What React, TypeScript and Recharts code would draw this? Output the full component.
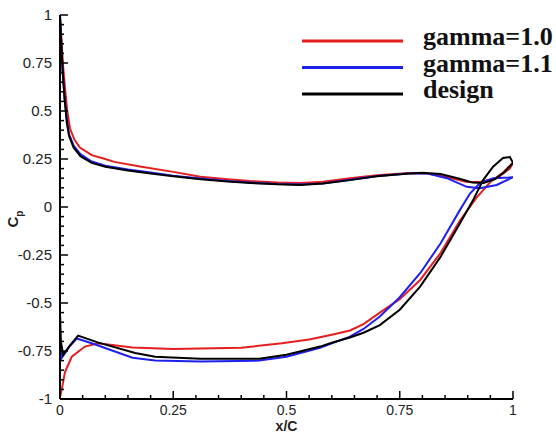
import React from "react";
import { LineChart, Line, XAxis, YAxis, Legend, Label } from "recharts";

// pressure distribution, upper surface LE -> TE, then lower surface TE -> LE
const GAMMA_10 = [
  { x: 0, y: 0.98 }, { x: 0.003, y: 0.88 }, { x: 0.007, y: 0.73 }, { x: 0.011, y: 0.62 },
  { x: 0.016, y: 0.5 }, { x: 0.022, y: 0.41 }, { x: 0.032, y: 0.35 }, { x: 0.044, y: 0.31 },
  { x: 0.07, y: 0.27 }, { x: 0.1, y: 0.25 }, { x: 0.12, y: 0.235 }, { x: 0.18, y: 0.21 },
  { x: 0.25, y: 0.183 }, { x: 0.31, y: 0.158 }, { x: 0.37, y: 0.145 }, { x: 0.42, y: 0.135 },
  { x: 0.48, y: 0.128 }, { x: 0.53, y: 0.125 }, { x: 0.58, y: 0.132 }, { x: 0.64, y: 0.15 },
  { x: 0.7, y: 0.165 }, { x: 0.77, y: 0.177 }, { x: 0.81, y: 0.175 }, { x: 0.854, y: 0.156 },
  { x: 0.898, y: 0.13 }, { x: 0.927, y: 0.13 }, { x: 0.964, y: 0.15 }, { x: 0.993, y: 0.2 },
  { x: 1.0, y: 0.23 },
  { x: 0.978, y: 0.18 }, { x: 0.95, y: 0.13 }, { x: 0.92, y: 0.05 }, { x: 0.883, y: -0.07 },
  { x: 0.84, y: -0.24 }, { x: 0.795, y: -0.38 }, { x: 0.75, y: -0.48 }, { x: 0.706, y: -0.55 },
  { x: 0.67, y: -0.61 }, { x: 0.64, y: -0.643 }, { x: 0.6, y: -0.665 }, { x: 0.55, y: -0.69 },
  { x: 0.49, y: -0.71 }, { x: 0.4, y: -0.733 },
  { x: 0.31, y: -0.737 }, { x: 0.25, y: -0.74 }, { x: 0.16, y: -0.732 }, { x: 0.084, y: -0.71 },
  { x: 0.055, y: -0.727 }, { x: 0.026, y: -0.78 }, { x: 0.011, y: -0.86 }, { x: 0.004, y: -0.95 },
  { x: 0, y: -0.99 },
];

const GAMMA_11 = [
  { x: 0, y: 1.0 }, { x: 0.003, y: 0.84 }, { x: 0.006, y: 0.7 }, { x: 0.01, y: 0.57 },
  { x: 0.015, y: 0.46 }, { x: 0.02, y: 0.38 }, { x: 0.03, y: 0.32 }, { x: 0.045, y: 0.275 },
  { x: 0.07, y: 0.237 }, { x: 0.1, y: 0.215 }, { x: 0.15, y: 0.195 }, { x: 0.2, y: 0.18 },
  { x: 0.25, y: 0.163 }, { x: 0.31, y: 0.148 }, { x: 0.37, y: 0.135 }, { x: 0.42, y: 0.127 },
  { x: 0.48, y: 0.12 }, { x: 0.53, y: 0.117 }, { x: 0.58, y: 0.123 }, { x: 0.64, y: 0.142 },
  { x: 0.7, y: 0.162 }, { x: 0.77, y: 0.175 }, { x: 0.81, y: 0.175 }, { x: 0.854, y: 0.15 },
  { x: 0.898, y: 0.105 }, { x: 0.927, y: 0.098 }, { x: 0.964, y: 0.115 }, { x: 1.0, y: 0.155 },
  { x: 0.956, y: 0.15 }, { x: 0.927, y: 0.125 }, { x: 0.905, y: 0.07 }, { x: 0.883, y: -0.015 },
  { x: 0.84, y: -0.19 }, { x: 0.795, y: -0.345 }, { x: 0.75, y: -0.47 }, { x: 0.706, y: -0.57 },
  { x: 0.67, y: -0.635 }, { x: 0.64, y: -0.675 }, { x: 0.6, y: -0.71 }, { x: 0.574, y: -0.733 },
  { x: 0.5, y: -0.78 }, { x: 0.44, y: -0.8 },
  { x: 0.31, y: -0.805 }, { x: 0.21, y: -0.8 }, { x: 0.16, y: -0.785 }, { x: 0.07, y: -0.71 },
  { x: 0.037, y: -0.685 }, { x: 0.02, y: -0.73 }, { x: 0.004, y: -0.785 }, { x: 0, y: -0.72 },
];

const DESIGN = [
  { x: 0, y: 1.0 }, { x: 0.003, y: 0.85 }, { x: 0.006, y: 0.7 }, { x: 0.01, y: 0.57 },
  { x: 0.015, y: 0.44 }, { x: 0.02, y: 0.37 }, { x: 0.03, y: 0.31 }, { x: 0.045, y: 0.265 },
  { x: 0.07, y: 0.23 }, { x: 0.1, y: 0.21 }, { x: 0.15, y: 0.19 }, { x: 0.2, y: 0.175 },
  { x: 0.25, y: 0.16 }, { x: 0.31, y: 0.145 }, { x: 0.37, y: 0.133 }, { x: 0.42, y: 0.125 },
  { x: 0.48, y: 0.118 }, { x: 0.53, y: 0.115 }, { x: 0.58, y: 0.122 }, { x: 0.64, y: 0.14 },
  { x: 0.7, y: 0.16 }, { x: 0.77, y: 0.175 }, { x: 0.8, y: 0.178 }, { x: 0.84, y: 0.172 },
  { x: 0.88, y: 0.148 }, { x: 0.91, y: 0.128 }, { x: 0.935, y: 0.125 }, { x: 0.96, y: 0.145 },
  { x: 0.98, y: 0.18 }, { x: 1.0, y: 0.23 },
  { x: 0.993, y: 0.26 }, { x: 0.978, y: 0.255 }, { x: 0.956, y: 0.21 }, { x: 0.934, y: 0.14 },
  { x: 0.912, y: 0.036 }, { x: 0.883, y: -0.085 }, { x: 0.84, y: -0.26 }, { x: 0.795, y: -0.415 },
  { x: 0.75, y: -0.535 }, { x: 0.706, y: -0.615 }, { x: 0.67, y: -0.655 }, { x: 0.64, y: -0.68 },
  { x: 0.6, y: -0.707 }, { x: 0.574, y: -0.727 },
  { x: 0.5, y: -0.77 }, { x: 0.44, y: -0.79 }, { x: 0.31, y: -0.79 }, { x: 0.21, y: -0.78 },
  { x: 0.166, y: -0.76 }, { x: 0.083, y: -0.705 }, { x: 0.04, y: -0.67 }, { x: 0.022, y: -0.72 },
  { x: 0.007, y: -0.77 }, { x: 0.002, y: -0.7 }, { x: 0, y: -0.55 },
];

const X_TICKS = [
  0, 0.05, 0.1, 0.15, 0.2, 0.25, 0.3, 0.35, 0.4, 0.45, 0.5,
  0.55, 0.6, 0.65, 0.7, 0.75, 0.8, 0.85, 0.9, 0.95, 1,
];

const Y_TICKS = [
  -1, -0.95, -0.9, -0.85, -0.8, -0.75, -0.7, -0.65, -0.6, -0.55, -0.5,
  -0.45, -0.4, -0.35, -0.3, -0.25, -0.2, -0.15, -0.1, -0.05, 0,
  0.05, 0.1, 0.15, 0.2, 0.25, 0.3, 0.35, 0.4, 0.45, 0.5,
  0.55, 0.6, 0.65, 0.7, 0.75, 0.8, 0.85, 0.9, 0.95, 1,
];

const SERIES = [
  { name: "gamma=1.0", data: GAMMA_10, color: "#e51f1f" },
  { name: "gamma=1.1", data: GAMMA_11, color: "#1f1fef" },
  { name: "design", data: DESIGN, color: "#000000" },
];

const TICK_FONT = "'Liberation Sans', Arial, sans-serif";

const isMajor = (v: number) => Math.abs(v * 4 - Math.round(v * 4)) < 1e-9;

function XTick({ x, y, payload }: any) {
  const v = payload.value;
  const major = isMajor(v);
  return (
    <g>
      <line x1={x} x2={x} y1={y} y2={y - (major ? 8 : 4)} stroke="#000" strokeWidth={1.5} />
      {major && (
        <text x={x} y={y + 16} textAnchor="middle" fontSize={14} fontFamily={TICK_FONT} fill="#222">
          {String(v)}
        </text>
      )}
    </g>
  );
}

function YTick({ x, y, payload }: any) {
  const v = payload.value;
  const major = isMajor(v);
  return (
    <g>
      <line x1={x} x2={x + (major ? 8 : 4)} y1={y} y2={y} stroke="#000" strokeWidth={1.5} />
      {major && (
        <text x={x - 8} y={y + 5} textAnchor="end" fontSize={15} fontFamily={TICK_FONT} fill="#222">
          {String(v)}
        </text>
      )}
    </g>
  );
}

function CpLabel({ viewBox }: any) {
  const cx = viewBox.x + 18;
  const cy = viewBox.y + viewBox.height / 2 + 12;
  return (
    <text
      x={cx}
      y={cy}
      transform={`rotate(-90, ${cx}, ${cy})`}
      textAnchor="middle"
      fontFamily={TICK_FONT}
      fontWeight="bold"
      fontSize={15}
      fill="#222"
    >
      C
      <tspan fontSize={10} dy={5}>p</tspan>
    </text>
  );
}

function renderLegend() {
  return (
    <svg width={276} height={110}>
      {SERIES.map((s, i) => (
        <g key={s.name}>
          <line x1={22} x2={123} y1={41 + i * 26.5} y2={41 + i * 26.5} stroke={s.color} strokeWidth={3} />
          <text
            x={143}
            y={45 + i * 26.5}
            fontFamily="'Liberation Serif', 'Times New Roman', serif"
            fontWeight="bold"
            fontSize={26}
            fill="#111"
          >
            {s.name}
          </text>
        </g>
      ))}
    </svg>
  );
}

export default function App() {
  return (
    <div style={{ position: "absolute", left: 0, top: 0, background: "#fff" }}>
      <LineChart width={556} height={435} margin={{ top: 15, right: 43, bottom: 0, left: 0 }}>
        <XAxis
          type="number"
          dataKey="x"
          domain={[0, 1]}
          ticks={X_TICKS}
          height={36}
          tickSize={0}
          tickMargin={0}
          tickLine={false}
          tick={<XTick />}
          interval={0}
          axisLine={{ stroke: "#000", strokeWidth: 2 }}
          allowDataOverflow
        >
          <Label
            value="x/C"
            position="insideBottom"
            offset={4}
            fontFamily={TICK_FONT}
            fontWeight="bold"
            fontSize={14}
            fill="#222"
          />
        </XAxis>
        <YAxis
          type="number"
          domain={[-1, 1]}
          ticks={Y_TICKS}
          width={60}
          tickSize={0}
          tickMargin={0}
          tickLine={false}
          tick={<YTick />}
          interval={0}
          axisLine={{ stroke: "#000", strokeWidth: 2 }}
          allowDataOverflow
          label={<CpLabel />}
        />
        <Legend
          layout="horizontal"
          verticalAlign="middle"
          align="center"
          content={renderLegend}
          wrapperStyle={{ top: 0, left: 280, width: 276, height: 110 }}
        />
        {SERIES.map((s) => (
          <Line
            key={s.name}
            name={s.name}
            data={s.data}
            dataKey="y"
            type="linear"
            stroke={s.color}
            strokeWidth={2}
            dot={false}
            activeDot={false}
            isAnimationActive={false}
          />
        ))}
      </LineChart>
    </div>
  );
}
